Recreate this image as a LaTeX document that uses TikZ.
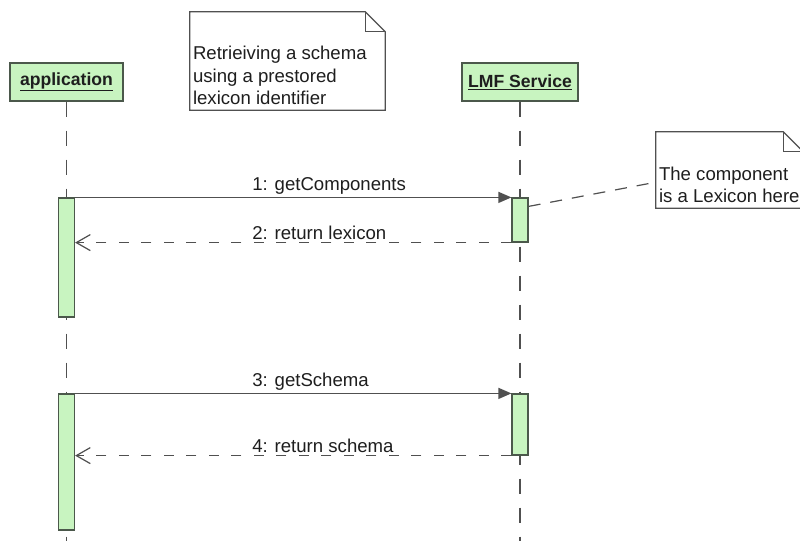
\documentclass[tikz,border=0pt]{standalone}
\usepackage{fontspec}
\setmainfont{Liberation Sans}
\usetikzlibrary{arrows.meta,calc}
\definecolor{actfill}{RGB}{200,244,192}
\definecolor{actline}{RGB}{75,88,75}
\definecolor{lineg}{RGB}{80,80,80}
\definecolor{txt}{RGB}{30,30,30}
\begin{document}
\begin{tikzpicture}[x=1pt,y=-1pt,
  every node/.style={text=txt,font=\fontsize{18.6}{22.5}\selectfont},
  head/.style={draw=actline,fill=actfill,line width=1.2pt,minimum height=38,inner sep=0,font=\fontsize{17.6}{22.5}\selectfont\bfseries},
  act/.style={draw=actline,fill=actfill,line width=1.2pt,minimum width=16,inner sep=0},
  lifeline/.style={draw=lineg,line width=1.3pt,dash pattern=on 15pt off 14pt},
  call/.style={draw=lineg,line width=1.3pt,-{Triangle[length=13pt,width=11pt]}},
  ret/.style={draw=lineg,line width=1.3pt,dash pattern=on 10pt off 12.5pt,-{Straight Barb[length=14pt,width=16pt,line width=1.2pt]}},
  lbl/.style={inner sep=2pt,anchor=south west},
  noteframe/.style={minimum width=#1,minimum height=76,inner sep=0},
  notetext/.style={align=left,inner sep=0,anchor=south west},
  notepath/.style={draw=lineg,line width=1.2pt,fill=white},
  notelink/.style={draw=lineg,line width=1.2pt,dash pattern=on 12pt off 10pt}
]
\useasboundingbox (0,0) rectangle (800,546);
\clip (0,0) rectangle (800,546);
\fill[white] (0,0) rectangle (800,546);

% heads
\node[head,minimum width=113] (app) at (66.5,82) {\underline{application}};
\node[head,minimum width=116] (lmf) at (520,82) {\underline{LMF Service}};

\coordinate (append) at (app.south |- 0,541);
\coordinate (lmfend) at (lmf.south |- 0,541);
\draw[lifeline] (app.south) -- (append);
\draw[lifeline] (lmf.south) -- (lmfend);

% activations
\node[act,minimum height=119] (a1) at (app.south |- 0,257.5) {};
\node[act,minimum height=44] (l1) at (lmf.south |- 0,220) {};
\node[act,minimum height=136] (a2) at (app.south |- 0,462) {};
\node[act,minimum height=61] (l2) at (lmf.south |- 0,424.5) {};

% messages
\draw[call] (a1.north east) -- (l1.north west) node[lbl,pos=0.4] (m1) {1: getComponents};
\draw[ret] (l1.south west) -- (l1.south west -| a1.east) node[lbl,pos=0.6] (m2) {2: return lexicon};
\draw[call] (a2.north east) -- (l2.north west) node[lbl,pos=0.4] (m3) {3: getSchema};
\draw[ret] (l2.south west) -- (l2.south west -| a2.east) node[lbl,pos=0.6] (m4) {4: return schema};

% note 1
\node[noteframe=195,minimum height=98] (n1) at (287.5,61) {};
\draw[notepath] (n1.north west) -- ($(n1.north east)+(-20,0)$) -- ($(n1.north east)+(0,20)$) -- (n1.south east) -- (n1.south west) -- cycle;
\draw[draw=lineg,line width=1.2pt] ($(n1.north east)+(-20,0)$) -- ($(n1.north east)+(-20,20)$) -- ($(n1.north east)+(0,20)$);
\node[notetext] (n1t) at ($(n1.south west)+(3,-5)$) {Retrieiving a schema\\using a prestored\\lexicon identifier};

% note 2
\node[noteframe=147] (n2) at (729.5,170) {};
\draw[notelink] ($(l1.north east)+(0,9)$) -- ($(n2.south west)+(0,-26)$);
\draw[notepath] (n2.north west) -- ($(n2.north east)+(-20,0)$) -- ($(n2.north east)+(0,20)$) -- (n2.south east) -- (n2.south west) -- cycle;
\draw[draw=lineg,line width=1.2pt] ($(n2.north east)+(-20,0)$) -- ($(n2.north east)+(-20,20)$) -- ($(n2.north east)+(0,20)$);
\node[notetext] (n2t) at ($(n2.south west)+(3,-5)$) {The component\\is a Lexicon here};
\end{tikzpicture}
\end{document}
